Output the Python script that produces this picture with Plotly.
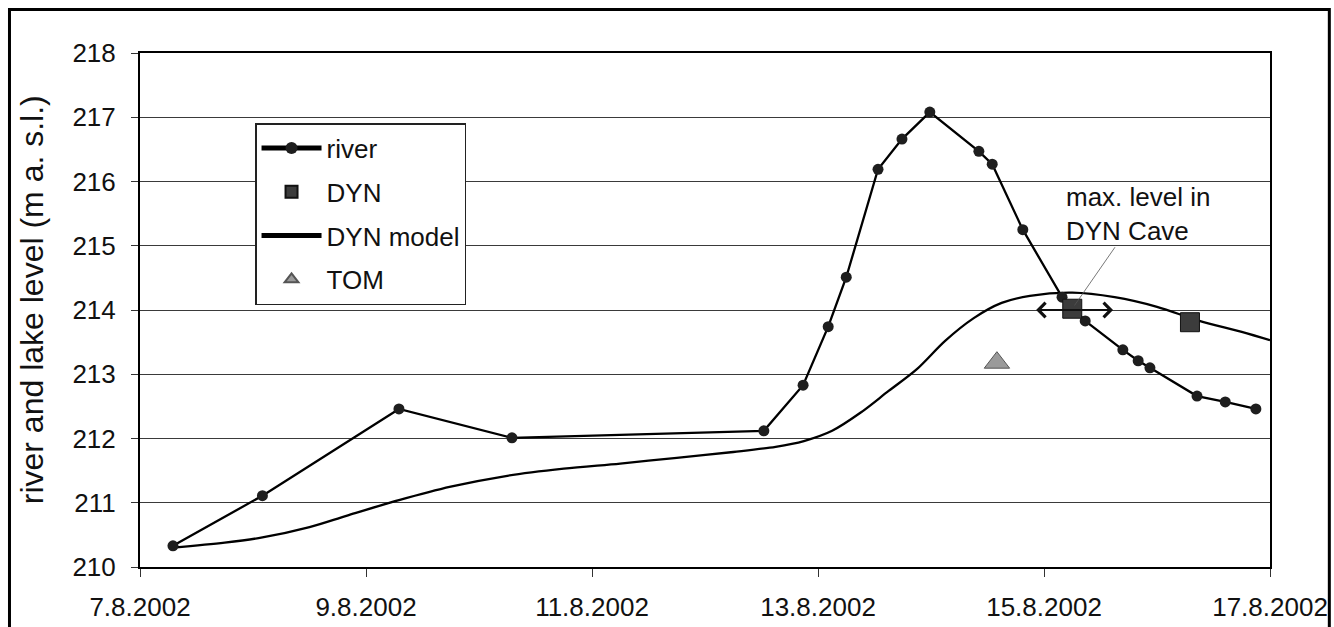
import plotly.graph_objects as go

# River gauge readings
river_t = ["2002-08-07 07:00", "2002-08-08 02:00", "2002-08-09 07:00", "2002-08-10 07:00",
           "2002-08-12 12:30", "2002-08-12 20:50", "2002-08-13 02:10", "2002-08-13 06:00",
           "2002-08-13 12:45", "2002-08-13 17:50", "2002-08-13 23:45", "2002-08-14 10:10",
           "2002-08-14 13:00", "2002-08-14 19:30", "2002-08-15 03:50", "2002-08-15 08:45",
           "2002-08-15 16:45", "2002-08-15 20:00", "2002-08-15 22:30", "2002-08-16 08:30",
           "2002-08-16 14:30", "2002-08-16 21:00"]
river_level = [210.33, 211.11, 212.46, 212.01, 212.12, 212.83, 213.74, 214.51, 216.19, 216.66,
               217.08, 216.47, 216.27, 215.25, 214.20, 213.83, 213.38, 213.21, 213.10, 212.66,
               212.57, 212.46]

# DYN cave observed levels
dyn_t = ["2002-08-15 06:00", "2002-08-16 07:00"]
dyn_level = [214.02, 213.81]

# DYN cave model
model_t = ["2002-08-07 07:00", "2002-08-07 18:00", "2002-08-08 02:00", "2002-08-08 12:00",
           "2002-08-08 20:00", "2002-08-09 07:00", "2002-08-09 18:00", "2002-08-10 06:00",
           "2002-08-10 18:00", "2002-08-11 06:00", "2002-08-11 18:00", "2002-08-12 06:00",
           "2002-08-12 15:00", "2002-08-12 21:00", "2002-08-13 03:00", "2002-08-13 09:00",
           "2002-08-13 15:00", "2002-08-13 21:00", "2002-08-14 03:00", "2002-08-14 09:00",
           "2002-08-14 15:00", "2002-08-14 21:00", "2002-08-15 06:00", "2002-08-15 15:00",
           "2002-08-16 00:00", "2002-08-16 09:00", "2002-08-16 18:00", "2002-08-17 00:00"]
model_level = [210.30, 210.38, 210.46, 210.62, 210.80, 211.04, 211.25, 211.42,
               211.53, 211.61, 211.70, 211.79, 211.87, 211.96, 212.12, 212.40,
               212.74, 213.08, 213.52, 213.87, 214.11, 214.22, 214.27, 214.20,
               214.05, 213.83, 213.66, 213.53]

# TOM cave observation
tom_t = ["2002-08-14 14:00"]
tom_level = [213.18]

y_ticks = [210, 211, 212, 213, 214, 215, 216, 217, 218]

FONT = "Arial, Liberation Sans, sans-serif"

fig = go.Figure()

fig.add_trace(go.Scatter(
    x=model_t, y=model_level, mode="lines", name="DYN model",
    legendgroup="model", legendrank=3,
    line=dict(color="black", width=2.3, shape="spline", smoothing=0.9),
))
fig.add_trace(go.Scatter(
    x=river_t, y=river_level, mode="lines+markers", name="river",
    legendgroup="river", legendrank=1,
    line=dict(color="black", width=2.3),
    marker=dict(symbol="circle", size=11, color="#1e1e1e"),
))
fig.add_trace(go.Scatter(
    x=dyn_t, y=dyn_level, mode="markers", name="DYN",
    legendgroup="dyn", legendrank=2,
    marker=dict(symbol="square", size=19, color="#3c3c3c", line=dict(color="#111", width=1)),
))
fig.add_trace(go.Scatter(
    x=tom_t, y=tom_level, mode="markers", name="TOM",
    legendgroup="tom", legendrank=4,
    marker=dict(symbol="triangle-up", size=22, color="#9a9a9a", line=dict(color="#555", width=1)),
))

# label pointing at the DYN maximum
fig.add_annotation(
    x=dyn_t[0], y=dyn_level[0], xref="x", yref="y",
    text="max. level in<br>DYN Cave", align="left",
    showarrow=True, arrowhead=0, arrowwidth=0.8, arrowcolor="#555",
    ax=66, ay=-95, standoff=4,
    font=dict(family=FONT, size=26, color="#111"),
)
# double-headed arrow around the maximum
fig.add_annotation(
    x="2002-08-15 14:40", y=dyn_level[0] - 0.02, xref="x", yref="y",
    ax="2002-08-14 22:00", ay=dyn_level[0] - 0.02, axref="x", ayref="y",
    text="", showarrow=True, arrowside="end+start", arrowhead=4,
    arrowsize=1.4, arrowwidth=2, arrowcolor="#111",
)

# y axis title
fig.add_annotation(
    x=-0.096, y=0.52, xref="paper", yref="paper",
    text="river and lake level (m a. s.l.)", textangle=-90,
    showarrow=False, xanchor="center", yanchor="middle",
    font=dict(family=FONT, size=32, color="#111"),
)

# outer frame
fig.add_shape(
    type="rect", xref="paper", yref="paper",
    x0=-0.1155, x1=1.0525, y0=-0.13, y1=1.0845,
    line=dict(color="black", width=3), fillcolor="rgba(0,0,0,0)", layer="below",
)

fig.update_layout(
    width=1334, height=627,
    margin=dict(l=140, r=64, t=53, b=60, autoexpand=False),
    paper_bgcolor="white", plot_bgcolor="white",
    font=dict(family=FONT, size=26, color="#111"),
    showlegend=True,
    legend=dict(
        x=0.1018, y=0.8638, xanchor="left", yanchor="top",
        bgcolor="white", bordercolor="#222", borderwidth=1.5,
        font=dict(family=FONT, size=26, color="#111"),
        itemwidth=60, itemsizing="constant", tracegroupgap=7,
        traceorder="grouped",
    ),
    xaxis=dict(
        type="date", range=["2002-08-07", "2002-08-17"], automargin=False,
        tick0="2002-08-07", dtick=2 * 86400000, tickformat="%-d.%-m.%Y",
        showgrid=False, zeroline=False,
        showline=True, linecolor="black", linewidth=2, mirror=True,
        ticks="outside", ticklen=8, tickcolor="#333", tickwidth=1,
        ticklabelstandoff=8,
    ),
    yaxis=dict(
        range=[210, 218], tickvals=y_ticks, automargin=False,
        showgrid=True, gridcolor="#3a3a3a", gridwidth=1, zeroline=False,
        showline=True, linecolor="black", linewidth=2, mirror=True,
        ticks="outside", ticklen=7, tickcolor="#333", tickwidth=1,
        ticklabelstandoff=10,
    ),
)

fig.write_html("out.html")
